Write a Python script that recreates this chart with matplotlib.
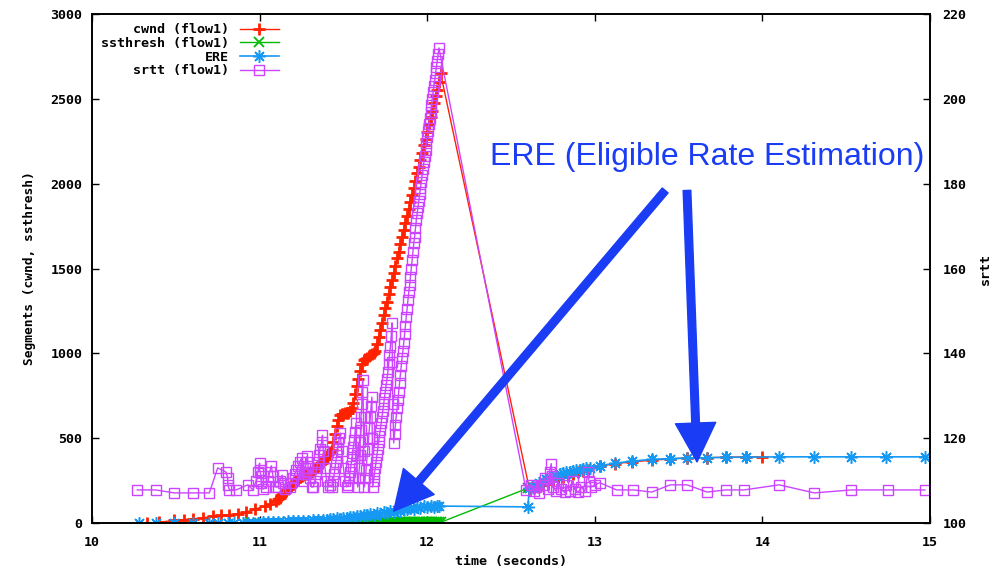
import numpy as np
import matplotlib.pyplot as plt

# ---- data ----
# cwnd (flow1), left axis
cwnd_t = [10.33, 10.40, 10.49, 10.55, 10.60, 10.66, 10.72, 10.77, 10.82, 10.87,
          10.92, 10.97, 11.03, 11.06,
          11.10, 11.11, 11.12, 11.13, 11.14, 11.15, 11.16, 11.17, 11.18, 11.19,
          11.20, 11.21, 11.22, 11.23, 11.24, 11.25, 11.26, 11.27, 11.28, 11.29,
          11.30, 11.31, 11.32, 11.33, 11.34, 11.35, 11.36, 11.37, 11.38, 11.39,
          11.40, 11.41, 11.42, 11.43, 11.44, 11.45, 11.46, 11.47, 11.48, 11.49,
          11.50, 11.51, 11.52, 11.53, 11.54, 11.55, 11.56, 11.57, 11.58, 11.59,
          11.60, 11.61, 11.62, 11.63, 11.64, 11.65, 11.66, 11.67, 11.68, 11.69,
          11.70, 11.71, 11.72, 11.73, 11.74, 11.75, 11.76, 11.77, 11.78, 11.79,
          11.80, 11.81, 11.82, 11.83, 11.84, 11.85, 11.86, 11.87, 11.88, 11.89,
          11.90, 11.91, 11.92, 11.93, 11.94, 11.95, 11.96, 11.97, 11.98, 11.99,
          12.00, 12.01, 12.02, 12.03, 12.04, 12.05, 12.06, 12.07, 12.08,
          12.61, 12.64, 12.66, 12.69, 12.72, 12.75, 12.78, 12.81, 12.84, 12.87,
          12.90, 12.93, 12.96, 13.03, 13.12, 13.22, 13.34, 13.45, 13.55, 13.67,
          13.78, 13.90, 14.0]
cwnd_v = [0, 5, 15, 20, 25, 30, 40, 45, 50, 55,
          65, 80, 100, 110,
          130, 140, 150, 165, 175, 185, 190, 200, 210, 220,
          230, 240, 250, 262, 270, 278, 283, 286, 288, 290,
          292, 300, 312, 322, 330, 338, 345, 352, 365, 378,
          392, 405, 418, 432, 480, 525, 570, 610, 635, 640,
          643, 646, 648, 650, 660, 680, 710, 760, 805, 850,
          895, 935, 960, 968, 975, 982, 990, 997, 1003, 1015,
          1055, 1095, 1140, 1180, 1225, 1265, 1305, 1350, 1390, 1430,
          1475, 1515, 1560, 1600, 1645, 1685, 1725, 1770, 1810, 1850,
          1890, 1935, 1975, 2015, 2060, 2100, 2140, 2180, 2225, 2265,
          2305, 2350, 2390, 2430, 2475, 2515, 2555, 2600, 2650,
          200, 208, 215, 222, 232, 245, 258, 270, 280, 290,
          298, 306, 315, 335, 350, 360, 370, 378, 383, 385,
          388, 390, 390]

# ssthresh (flow1), left axis
ssth_t = [10.95, 11.02, 11.08, 11.15, 11.22, 11.28, 11.35, 11.40, 11.45, 11.50,
          11.53, 11.55, 11.56, 11.57, 11.58, 11.59, 11.60, 11.61, 11.62, 11.63,
          11.64, 11.65, 11.66, 11.67, 11.68, 11.69, 11.70, 11.71, 11.72, 11.73,
          11.74, 11.75, 11.76, 11.77, 11.78, 11.79, 11.80, 11.81, 11.82, 11.83,
          11.84, 11.85, 11.86, 11.87, 11.88, 11.89, 11.90, 11.91, 11.92, 11.93,
          11.94, 11.95, 11.96, 11.97, 11.98, 11.99, 12.00, 12.01, 12.02, 12.03,
          12.04, 12.05, 12.06, 12.07, 12.08, 12.60]
ssth_v = [0, 0, 0, 0, 1, 1, 1, 1, 2, 2,
          2, 2, 2, 2, 3, 3, 3, 3, 3, 3,
          3, 3, 3, 4, 4, 4, 4, 4, 4, 4,
          4, 4, 4, 4, 4, 4, 4, 4, 4, 4,
          4, 4, 4, 4, 4, 4, 4, 4, 4, 4,
          4, 4, 4, 4, 4, 4, 4, 4, 4, 4,
          4, 4, 4, 4, 4, 205]

# ERE, left axis
ere_t = [10.28, 10.38, 10.49, 10.60, 10.70, 10.75, 10.81, 10.85, 10.90, 10.93,
         10.96, 10.99, 11.02, 11.05, 11.08, 11.11, 11.14, 11.17, 11.20, 11.23,
         11.26, 11.29, 11.32, 11.35, 11.38, 11.40, 11.42, 11.44, 11.46, 11.48,
         11.50, 11.52, 11.54, 11.56, 11.58, 11.60, 11.62, 11.64, 11.66, 11.68,
         11.70, 11.72, 11.74, 11.76, 11.78, 11.80, 11.82, 11.84, 11.86, 11.88,
         11.90, 11.92, 11.94, 11.96, 11.98, 12.00, 12.02, 12.04, 12.06, 12.07,
         12.60, 12.61, 12.63, 12.65, 12.67, 12.69, 12.71, 12.73, 12.75, 12.77,
         12.79, 12.81, 12.83, 12.85, 12.87, 12.89, 12.91, 12.93, 12.95, 12.97,
         13.03, 13.12, 13.22, 13.34, 13.45, 13.55, 13.67, 13.78, 13.90, 14.10,
         14.31, 14.53, 14.74, 14.97]
ere_v = [0, 0, 0, 0, 0, 0, 0, 0, 2, 2,
         3, 3, 4, 5, 6, 7, 8, 9, 10, 11,
         12, 13, 15, 17, 20, 18, 24, 22, 28, 26,
         32, 30, 38, 36, 44, 40, 48, 46, 54, 50,
         58, 55, 64, 60, 70, 66, 78, 72, 84, 80,
         88, 84, 94, 90, 98, 94, 100, 97, 102, 100,
         95, 205, 212, 225, 238, 250, 258, 266, 272, 280,
         286, 292, 298, 302, 306, 310, 314, 318, 322, 326,
         338, 352, 365, 375, 380, 383, 385, 387, 388, 390,
         390, 390, 390, 390]

# srtt (flow1), right axis
srtt_t = [10.27, 10.38, 10.49, 10.60, 10.70, 10.75, 10.80, 10.81, 10.81, 10.82,
          10.86, 10.93, 10.96, 10.98, 10.99, 11.00, 11.00, 11.01, 11.01, 11.02,
          11.04, 11.05, 11.06, 11.07, 11.08, 11.09, 11.11, 11.12, 11.135, 11.14,
          11.15,
          11.18, 11.19, 11.20, 11.21, 11.22, 11.23, 11.24, 11.25, 11.255, 11.26,
          11.265, 11.27, 11.28, 11.285, 11.29, 11.30, 11.31,
          11.32, 11.33, 11.335, 11.34, 11.35, 11.355, 11.36, 11.37, 11.375, 11.38,
          11.39, 11.40, 11.41, 11.42,
          11.43, 11.44, 11.445, 11.45, 11.455, 11.46, 11.465, 11.47, 11.475, 11.48,
          11.49, 11.50, 11.51, 11.52,
          11.53, 11.535, 11.54, 11.545, 11.55, 11.555, 11.56, 11.565, 11.57, 11.575,
          11.58, 11.585,
          11.59, 11.595, 11.60, 11.60, 11.605, 11.605, 11.61, 11.61, 11.615, 11.62,
          11.62, 11.625,
          11.63, 11.635, 11.64, 11.645, 11.65, 11.655, 11.66, 11.665, 11.67, 11.672,
          11.675,
          11.68, 11.685, 11.69, 11.695, 11.70, 11.705, 11.71, 11.715, 11.72, 11.725,
          11.73, 11.735, 11.74, 11.745, 11.75, 11.755, 11.76, 11.765, 11.77, 11.775,
          11.78, 11.785, 11.79, 11.792, 11.795,
          11.800, 11.805, 11.810, 11.815, 11.820, 11.825, 11.830, 11.835, 11.840, 11.845,
          11.850, 11.855, 11.860, 11.865, 11.870, 11.875, 11.880, 11.885, 11.890, 11.895,
          11.900, 11.905, 11.910, 11.915, 11.920, 11.925, 11.930, 11.935, 11.940, 11.945,
          11.950, 11.955, 11.960, 11.965, 11.970, 11.975, 11.980, 11.985, 11.990, 11.995,
          12.000, 12.005, 12.010, 12.015, 12.020, 12.025, 12.030, 12.035, 12.040, 12.045,
          12.050, 12.055, 12.060, 12.065, 12.070,
          12.59, 12.62, 12.64, 12.65, 12.67, 12.69, 12.70, 12.72, 12.73, 12.74,
          12.745, 12.75, 12.77, 12.78, 12.80, 12.82, 12.83, 12.85, 12.87, 12.88,
          12.90, 12.92, 12.94, 12.96, 12.965, 12.98, 13.00, 13.03, 13.13, 13.23,
          13.34, 13.45, 13.55, 13.67, 13.78, 13.89, 14.10, 14.31, 14.53, 14.75,
          14.97]
srtt_v = [107.8, 107.8, 107.1, 107.1, 107.1, 113.0, 112.0, 110.5, 109.0, 107.8,
          107.8, 109.0, 107.8, 110.0, 112.0, 114.1, 112.5, 111.0, 109.5, 108.0,
          108.5, 110.0, 112.0, 113.5, 111.0, 108.5, 108.5, 110.0, 111.3, 109.5,
          108.0,
          108.5, 109.5, 110.5, 111.5, 112.5, 113.5, 114.5, 115.3, 112.0, 110.0,
          111.5, 113.0, 114.5, 115.8, 113.0, 110.5, 108.5,
          108.5, 110.0, 111.5, 113.0, 114.5, 116.0, 117.5, 119.0, 120.7, 117.0,
          113.0, 110.0, 108.5, 109.0,
          108.5, 110.0, 111.5, 113.0, 114.5, 116.0, 117.5, 119.0, 120.0, 121.2,
          117.0, 113.0, 110.0, 108.5,
          109.0, 110.5, 112.0, 113.5, 115.0, 116.5, 118.0, 119.5, 121.5, 123.6,
          116.0, 108.5,
          110.5, 113.0, 116.0, 119.0, 122.0, 125.0, 128.0, 131.0, 133.7, 125.0,
          117.0, 108.5,
          110.5, 112.5, 115.0, 117.5, 120.0, 122.5, 125.0, 127.5, 129.7, 120.0,
          108.5,
          110.0, 111.5, 113.0, 114.5, 116.0, 117.5, 119.0, 120.5, 122.0, 123.5,
          125.0, 126.5, 128.0, 129.5, 131.0, 132.5, 134.0, 135.5, 137.5, 139.5,
          141.5, 144.0, 147.2, 138.0, 128.0,
          118.9, 121.0, 123.0, 125.0, 127.0, 129.0, 131.0, 133.0, 135.0, 137.0,
          139.0, 140.5, 142.5, 144.5, 146.5, 148.5, 150.5, 152.5, 154.5, 156.0,
          158.0, 160.0, 162.0, 164.0, 166.0, 167.5, 169.5, 171.4, 173.0, 174.5,
          176.0, 177.5, 179.0, 180.5, 182.0, 183.5, 185.0, 186.5, 188.0, 189.5,
          191.0, 192.5, 194.0, 195.5, 197.0, 198.5, 200.0, 201.5, 203.0, 204.5,
          206.0, 207.5, 209.0, 210.5, 212.0,
          107.8, 109.0, 107.5, 108.5, 107.1, 109.0, 110.5, 108.0, 112.0, 114.0,
          111.0, 108.5, 107.5, 109.5, 108.0, 107.2, 109.0, 107.5, 110.0, 108.0,
          107.2, 108.5, 107.5, 112.0, 110.0, 108.5, 109.0, 109.5, 107.8, 107.8,
          107.3, 109.0, 109.0, 107.3, 107.8, 107.8, 109.0, 107.1, 107.8, 107.8,
          107.8]

c_cwnd = "#ff2200"
c_ssth = "#00bb00"
c_ere = "#1599f5"
c_srtt = "#cc44ff"
c_note = "#1a3cf5"

mono = {"family": "DejaVu Sans Mono", "weight": "bold", "size": 9.6}

fig = plt.figure(figsize=(10, 5.69), dpi=100)
ax = fig.add_axes([0.092, 0.0808, 0.838, 0.8946])
ax2 = ax.twinx()

l1, = ax.plot(cwnd_t, cwnd_v, color=c_cwnd, lw=1, marker="+", ms=9, mew=2.0)
l2, = ax.plot(ssth_t, ssth_v, color=c_ssth, lw=1, marker="x", ms=7, mew=1.3)
l3, = ax.plot(ere_t, ere_v, color=c_ere, lw=1.2, marker=(8, 2, 0), ms=9, mew=1.1)
l4, = ax2.plot(srtt_t, srtt_v, color=c_srtt, lw=1, marker="s", ms=6.5,
               mfc="none", mew=1)

ax.set_xlim(10, 15)
ax.set_ylim(0, 3000)
ax2.set_ylim(100, 220)
ax.set_xticks([10, 11, 12, 13, 14, 15])
ax.set_yticks(np.arange(0, 3001, 500))
ax2.set_yticks(np.arange(100, 221, 20))

ax.tick_params(direction="in", length=5, width=1, top=True, pad=9)
ax.tick_params(axis="y", pad=7)
ax2.tick_params(direction="in", length=5, width=1, pad=9)
for lab in ax.get_xticklabels() + ax.get_yticklabels() + ax2.get_yticklabels():
    lab.set_fontfamily(mono["family"])
    lab.set_fontweight("bold")
    lab.set_fontsize(9.6)

for a in (ax, ax2):
    for s in a.spines.values():
        s.set_linewidth(1.2)

ax.set_xlabel("time (seconds)", fontdict=mono, labelpad=5)
ax.set_ylabel("Segments (cwnd, ssthresh)", fontdict=dict(mono, size=9.3),
              labelpad=10)
ax2.set_ylabel("srtt", fontdict=mono, labelpad=9)

ax2.legend([l1, l2, l3, l4],
           ["cwnd (flow1)", "ssthresh (flow1)", "ERE", "srtt (flow1)"],
           loc="upper left", markerfirst=False, frameon=False,
           prop=mono, handlelength=2.9, handletextpad=0.8,
           labelspacing=0.05, borderaxespad=0.3,
           bbox_to_anchor=(0.0, 1.0))

# annotation
ax2.text(13.67, 2157, "ERE (Eligible Rate Estimation)", transform=ax.transData,
         color=c_note, fontsize=23, family="Liberation Sans",
         ha="center", va="center")
arrow = dict(arrowstyle="simple,head_width=2.9,head_length=2.8,tail_width=0.55",
             color=c_note, mutation_scale=10, shrinkA=0, shrinkB=0)
ax2.annotate("", xy=(11.80, 70), xytext=(13.42, 1960),
             xycoords=ax.transData, textcoords=ax.transData, arrowprops=arrow)
ax2.annotate("", xy=(13.61, 360), xytext=(13.55, 1960),
             xycoords=ax.transData, textcoords=ax.transData, arrowprops=arrow)

fig.savefig("out.png", dpi=100, facecolor="w")
